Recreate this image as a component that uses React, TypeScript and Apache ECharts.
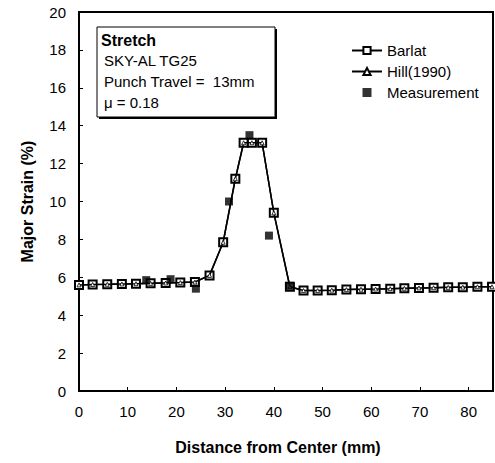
import React, { useEffect, useRef } from "react";
import * as echarts from "echarts";

const barlatX = [0, 2.8, 5.8, 8.8, 11.7, 14.7, 17.8, 20.8, 23.8, 26.8, 29.6, 32.1, 33.8, 35.5, 37.6, 40.0, 43.3, 46.1, 49.0, 51.9, 54.9, 57.9, 60.9, 63.9, 66.8, 69.8, 72.8, 75.8, 78.8, 81.8, 84.8];
const barlatY = [5.6, 5.62, 5.63, 5.65, 5.66, 5.68, 5.7, 5.72, 5.75, 6.1, 7.85, 11.2, 13.1, 13.1, 13.1, 9.4, 5.5, 5.3, 5.3, 5.32, 5.35, 5.37, 5.38, 5.4, 5.42, 5.44, 5.45, 5.47, 5.48, 5.5, 5.5];
const hillY = [5.6, 5.62, 5.63, 5.65, 5.66, 5.68, 5.7, 5.72, 5.75, 6.1, 7.85, 11.2, 13.1, 13.1, 13.1, 9.4, 5.5, 5.3, 5.3, 5.32, 5.35, 5.37, 5.38, 5.4, 5.42, 5.44, 5.45, 5.47, 5.48, 5.5, 5.5];
const measX = [13.8, 18.8, 24.0, 30.8, 35.0, 39.0, 43.3];
const measY = [5.85, 5.9, 5.4, 10.0, 13.5, 8.2, 5.55];
const infoLines = ["SKY-AL TG25", "Punch Travel =  13mm", "\u03bc = 0.18"];

const FONT = "'Liberation Sans', Arial, Helvetica, sans-serif";

export default function App() {
  const ref = useRef<HTMLDivElement>(null);
  useEffect(() => {
    if (!ref.current) return;
    const chart = echarts.init(ref.current, null, { renderer: "svg" });
    const barlat = barlatX.map((x, i) => [x, barlatY[i]]);
    const hill = barlatX.map((x, i) => [x, hillY[i]]);
    const meas = measX.map((x, i) => [x, measY[i]]);
    chart.setOption({
      animation: false,
      backgroundColor: "#fff",
      textStyle: { fontFamily: FONT },
      grid: {
        left: 79,
        right: 2,
        top: 12,
        bottom: 72,
        show: true,
        borderColor: "#000",
        borderWidth: 2,
      },
      legend: {
        orient: "vertical",
        left: 346,
        top: 38,
        itemWidth: 30,
        itemHeight: 9,
        itemGap: 6,
        textStyle: { fontFamily: FONT, fontSize: 15, color: "#000" },
        data: [
          { name: "Barlat" },
          { name: "Hill(1990)" },
          { name: "Measurement", icon: "path://M0,0L10,0L10,10L0,10Z" },
        ],
      },
      xAxis: {
        type: "value",
        min: 0,
        max: 85,
        interval: 10,
        name: "Distance from Center (mm)",
        nameLocation: "middle",
        nameGap: 48,
        nameTextStyle: {
          fontFamily: FONT,
          fontSize: 16,
          fontWeight: "bold",
          color: "#000",
          padding: [0, 16, 0, 0],
        },
        axisLine: { show: true, lineStyle: { color: "#000", width: 2 } },
        axisTick: { show: true, inside: true, length: 4, lineStyle: { color: "#000" } },
        axisLabel: {
          fontFamily: FONT,
          fontSize: 15,
          color: "#000",
          margin: 13,
          showMaxLabel: false,
          formatter: (v: number) => (v % 10 === 0 ? String(v) : ""),
        },
        splitLine: { show: false },
      },
      yAxis: {
        type: "value",
        min: 0,
        max: 20,
        interval: 2,
        name: "Major Strain (%)",
        nameLocation: "middle",
        nameGap: 44,
        nameTextStyle: { fontFamily: FONT, fontSize: 16, fontWeight: "bold", color: "#000" },
        axisLine: { show: true, lineStyle: { color: "#000", width: 2 } },
        axisTick: { show: true, inside: true, length: 4, lineStyle: { color: "#000" } },
        axisLabel: { fontFamily: FONT, fontSize: 15, color: "#000", margin: 13 },
        splitLine: { show: false },
      },
      graphic: [
        {
          type: "rect",
          shape: { x: 99, y: 29, width: 178, height: 90 },
          style: { fill: "#000" },
          z: 10,
        },
        {
          type: "rect",
          shape: { x: 97, y: 27, width: 178, height: 90 },
          style: { fill: "#fff", stroke: "#000", lineWidth: 1 },
          z: 11,
        },
        {
          type: "text",
          x: 101,
          y: 32,
          style: { text: "Stretch", font: `bold 16px ${FONT}`, fill: "#000" },
          z: 12,
        },
        ...infoLines.map((t, i) => ({
          type: "text",
          x: 104,
          y: 53 + i * 21,
          style: { text: t, font: `15px ${FONT}`, fill: "#000" },
          z: 12,
        })),
      ],
      series: [
        {
          name: "Barlat",
          type: "line",
          data: barlat,
          symbol: "rect",
          symbolSize: 8,
          lineStyle: { color: "#000", width: 1.5 },
          itemStyle: { color: "#fff", borderColor: "#000", borderWidth: 2 },
          z: 2,
        },
        {
          name: "Hill(1990)",
          type: "line",
          data: hill,
          symbol: "triangle",
          symbolSize: 4,
          lineStyle: { color: "#000", width: 1.5 },
          itemStyle: { color: "#fff", borderColor: "#000", borderWidth: 0.8 },
          z: 3,
        },
        {
          name: "Measurement",
          type: "scatter",
          data: meas,
          symbol: "rect",
          symbolSize: 8,
          itemStyle: { color: "#000" },
          z: 4,
        },
      ],
    });
    return () => chart.dispose();
  }, []);
  return (
    <div
      ref={ref}
      style={{ position: "fixed", left: 0, top: 0, width: 495, height: 463 }}
    />
  );
}
